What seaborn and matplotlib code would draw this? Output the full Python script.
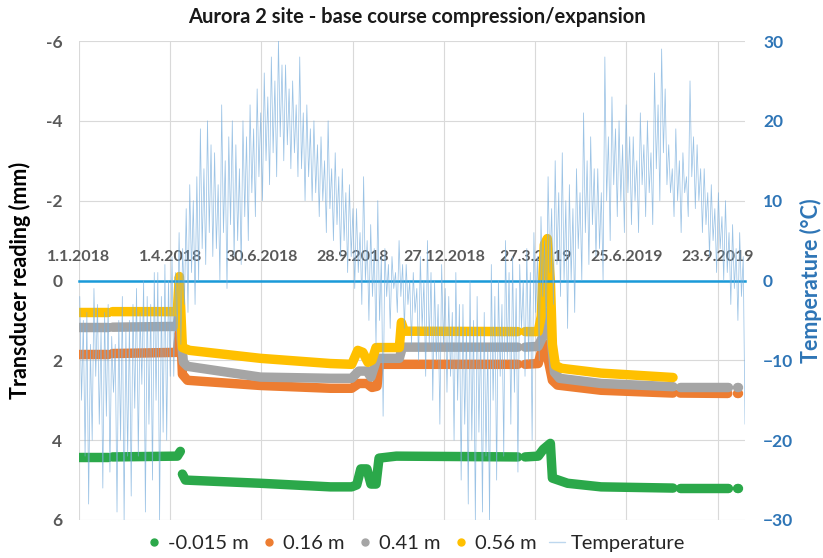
import numpy as np
import pandas as pd
import matplotlib
matplotlib.use("Agg")
import matplotlib.pyplot as plt
from matplotlib.lines import Line2D
import seaborn as sns

# ---------------- data ----------------
title = "Aurora 2 site - base course compression/expansion"
tick_labels = ["1.1.2018", "1.4.2018", "30.6.2018", "28.9.2018",
               "27.12.2018", "27.3.2019", "25.6.2019", "23.9.2019"]
series_names = ["-0.015 m", "0.16 m", "0.41 m", "0.56 m"]

green_dates = ["2018-01-01", "2018-01-30",
               "2018-02-03", "2018-04-08", "2018-04-11",
               "2018-04-13", "2018-04-16", "2018-06-29", "2018-09-06", "2018-09-27", "2018-10-02",
               "2018-10-06", "2018-10-12", "2018-10-16", "2018-10-21", "2018-10-24", "2018-11-10", "2019-03-10",
               "2019-03-17", "2019-03-30", "2019-04-04", "2019-04-11", "2019-04-13", "2019-04-28",
               "2019-05-31", "2019-08-10",
               "2019-08-17", "2019-10-03",
               "2019-10-12", "2019-10-13"]
green_vals = [4.42, 4.42,
              4.42, 4.40, 4.28,
              4.85, 5.0, 5.08, 5.17, 5.17, 5.12, 4.72, 4.72, 5.1, 5.1, 4.45, 4.4, 4.42,
              4.42, 4.40, 4.23, 4.08, 4.95, 5.08, 5.17, 5.2,
              5.2, 5.2,
              5.2, 5.2]
green_seg = [0] * 2 + [1] * 3 + [2] * 13 + [3] * 8 + [4] * 2 + [5] * 2

orange_dates = ["2018-01-01", "2018-01-30",
                "2018-02-03", "2018-04-08", "2018-04-10", "2018-04-12", "2018-04-13", "2018-04-18",
                "2018-06-29", "2018-09-06", "2018-09-27", "2018-10-04", "2018-10-12", "2018-10-17",
                "2018-10-22", "2018-10-24", "2019-03-10",
                "2019-03-17", "2019-03-30", "2019-04-03", "2019-04-06", "2019-04-09", "2019-04-13",
                "2019-04-18", "2019-05-31", "2019-08-10",
                "2019-08-17", "2019-10-03",
                "2019-10-12", "2019-10-13"]
orange_vals = [1.83, 1.83,
               1.83, 1.80, 1.30, 1.7, 2.35, 2.5, 2.63, 2.7, 2.7, 2.58, 2.58, 2.68, 2.65, 2.1, 2.1,
               2.1, 2.08, 1.7, 1.6, 2.0, 2.5, 2.62, 2.75, 2.82,
               2.82, 2.83,
               2.83, 2.83]
orange_seg = [0] * 2 + [1] * 15 + [2] * 9 + [3] * 2 + [4] * 2

gray_dates = ["2018-01-01", "2018-01-30",
              "2018-02-03", "2018-04-08", "2018-04-10", "2018-04-12", "2018-04-14", "2018-04-18",
              "2018-06-29", "2018-09-06", "2018-09-27", "2018-10-04", "2018-10-12", "2018-10-16",
              "2018-10-22", "2018-11-13", "2018-11-16", "2019-03-10",
              "2019-03-17", "2019-03-30", "2019-04-03", "2019-04-07", "2019-04-11", "2019-04-15",
              "2019-04-20", "2019-05-31", "2019-08-10",
              "2019-08-17", "2019-10-03",
              "2019-10-12", "2019-10-13"]
gray_vals = [1.17, 1.17,
             1.17, 1.15, 0.6, 1.5, 2.05, 2.15, 2.42, 2.45, 2.45, 2.27, 2.27, 2.42, 1.95, 1.95, 1.67, 1.67,
             1.67, 1.65, 1.43, 0.8, 1.2, 2.3, 2.45, 2.58, 2.66,
             2.66, 2.66,
             2.66, 2.66]
gray_seg = [0] * 2 + [1] * 16 + [2] * 9 + [3] * 2 + [4] * 2

yellow_dates = ["2018-01-01", "2018-01-30",
                "2018-02-03", "2018-04-08", "2018-04-09", "2018-04-10", "2018-04-11", "2018-04-13",
                "2018-04-20", "2018-06-29", "2018-09-06", "2018-09-27", "2018-10-03", "2018-10-08",
                "2018-10-13", "2018-10-17", "2018-10-21", "2018-11-13", "2018-11-15", "2018-11-18",
                "2019-03-10",
                "2019-03-17", "2019-03-30", "2019-04-02", "2019-04-05", "2019-04-08", "2019-04-11",
                "2019-04-13", "2019-04-16", "2019-04-22", "2019-05-31", "2019-08-10"]
yellow_vals = [0.78, 0.78,
               0.78, 0.78, 0.3, -0.1, 0.5, 1.68, 1.75, 1.95, 2.08, 2.1, 1.75, 1.8, 2.05, 2.0, 1.68,
               1.68, 1.05, 1.27, 1.28,
               1.28, 1.28, 0.9, -0.9, -1.05, 0.0, 1.6, 2.13, 2.2, 2.32, 2.43]
yellow_seg = [0] * 2 + [1] * 19 + [2] * 11

# half-weekly temperature highs / lows (°C), starting 1.1.2018
temp_start = "2018-01-01"
temp_high = [-2, -5, -4, -8, -1, -3, -6, -4, -3, -7, -8, -5, -2, -6, -5, -3, -1, -4, 0, -2,
             -3, 1, 1, -2, 2, 0, 3, 1, 6, 4, 9, 12, 10, 13, 19, 14, 20, 17, 16, 12,
             22, 15, 18, 20, 17, 14, 20, 18, 22, 19, 24, 21, 26, 23, 28, 25, 30, 27, 27, 24,
             25, 22, 28, 21, 22, 19, 20, 17, 18, 15, 20, 14, 16, 13, 14, 11, 12, 9, 9, 6,
             13, 5, 7, 4, 10, 3, 4, 2, 3, 1, 5, 2, 2, 0, 1, -1, 3, 0, 5, 1,
             0, -3, 2, -1, -2, -4, 1, -3, -3, -6, 0, -5, -2, -6, -4, -8, 2, -2, 0, -3,
             5, 1, 3, -1, 2, 0, 4, 1, 6, 3, 8, 5, 13, 9, 15, 11, 16, 10, 12, 9,
             14, 11, 21, 15, 18, 14, 14, 11, 28, 18, 23, 19, 20, 17, 22, 18, 18, 15, 21, 17,
             20, 16, 26, 22, 29, 24, 17, 14, 19, 15, 16, 13, 25, 18, 17, 14, 14, 11, 12, 9,
             11, 8, 10, 6, 7, 4, 6, 3]
temp_low = [-15, -22, -28, -20, -12, -18, -26, -17, -24, -14, -29, -20, -30, -22, -27, -16, -22, -13, -29, -18,
            -25, -15, -30, -19, -20, -12, -12, -6, -8, -3, -4, 1, -3, 0, 4, 2, 6, 3, 4, 0,
            6, -1, 7, 3, 5, 2, 8, 5, 11, 8, 13, 10, 15, 12, 16, 13, 18, 15, 17, 14,
            16, 13, 14, 10, 13, 10, 11, 8, 10, 6, 9, 5, 7, 3, 5, 1, 3, -1, 1, -3,
            0, -5, -2, -8, -5, -17, -2, -6, -1, -4, -2, -6, -3, -8, -4, -10, -6, -12, -8, -15,
            -10, -18, -8, -14, -12, -20, -15, -25, -18, -28, -20, -30, -19, -29, -22, -30, -15, -25, -12, -22,
            -10, -18, -14, -24, -6, -12, -10, -20, -4, -10, -2, -6, 1, -3, 2, -2, 0, -6, 0, -4,
            4, 0, 6, 2, 7, 3, 4, 0, 10, 5, 12, 8, 10, 6, 11, 7, 10, 6, 12, 8,
            11, 7, 14, 10, 16, 12, 11, 8, 10, 6, 11, 8, 13, 9, 10, 6, 7, 3, 5, 1,
            4, 0, 1, -3, -1, -5, -2, -18]

# ---------------- styling ----------------
colors = ["#2BA84A", "#ED7D31", "#A5A5A5", "#FFC000"]
temp_color = "#7AAFDD"
axis_blue = "#1A9AD9"
right_blue = "#2E75B6"
tick_gray = "#595959"

sns.set_style("white")
plt.rcParams["font.family"] = ["Lato", "DejaVu Sans"]

fig = plt.figure(figsize=(8.23, 5.58), dpi=100)
ax = fig.add_axes([79 / 823, 1 - 520 / 558, 666 / 823, 479 / 558])

series = [(green_dates, green_vals, green_seg),
          (orange_dates, orange_vals, orange_seg),
          (gray_dates, gray_vals, gray_seg),
          (yellow_dates, yellow_vals, yellow_seg)]
for (d, v, s), c in zip(series, colors):
    df = pd.DataFrame({"date": pd.to_datetime(d), "value": v, "seg": s})
    sns.lineplot(data=df, x="date", y="value", units="seg", estimator=None, sort=False,
                 color=c, lw=6.8, solid_capstyle="round", solid_joinstyle="round",
                 ax=ax, legend=False, zorder=3)

ax.set_ylim(6, -6)
ax.set_yticks(np.arange(-6, 7, 2))
ax.set_yticklabels([str(t) for t in range(-6, 7, 2)])
ax.set_xlim(pd.Timestamp("2018-01-01"), pd.Timestamp("2019-10-20"))
tick_dates = pd.to_datetime(tick_labels, format="%d.%m.%Y")
ax.set_xticks(tick_dates)
ax.set_xticklabels(tick_labels)
ax.xaxis.set_ticks_position("top")
ax.spines["top"].set_position(("data", 0))
for side in ["left", "right", "bottom"]:
    ax.spines[side].set_visible(False)
ax.spines["top"].set_color(axis_blue)
ax.spines["top"].set_linewidth(1.8)
ax.spines["top"].set_zorder(5)
ax.tick_params(axis="x", length=0, pad=12, labelsize=11.5, labelcolor=tick_gray)
ax.tick_params(axis="y", length=0, pad=12, labelsize=12.5, labelcolor=tick_gray)
for lab in ax.get_xticklabels() + ax.get_yticklabels():
    lab.set_fontweight("bold")
ax.grid(True, color="#D9D9D9", lw=0.8)
ax.set_axisbelow(True)
ax.set_xlabel("")
ax.set_ylabel("Transducer reading (mm)", fontsize=15.5, fontweight="bold", color="black")
ax.yaxis.set_label_coords(-0.072, 0.5)

# temperature on secondary axis
ax2 = ax.twinx()
half_starts = pd.date_range(temp_start, periods=len(temp_high), freq="84h")
t_dates, t_vals = [], []
for hs, hi, lo in zip(half_starts, temp_high, temp_low):
    t_dates += [hs + pd.Timedelta(hours=18), hs + pd.Timedelta(hours=60)]
    t_vals += [hi, lo]
tdf = pd.DataFrame({"date": t_dates, "temp": t_vals})
sns.lineplot(data=tdf, x="date", y="temp", estimator=None, sort=False, color=temp_color,
             lw=0.55, alpha=0.75, ax=ax2, legend=False)
ax2.set_ylim(-30, 30)
ax2.set_yticks(np.arange(-30, 31, 10))
ax2.set_xlim(pd.Timestamp("2018-01-01"), pd.Timestamp("2019-10-20"))
for side in ["left", "right", "bottom", "top"]:
    ax2.spines[side].set_visible(False)
ax2.tick_params(axis="y", length=0, pad=13, labelsize=12.5, labelcolor=right_blue)
for lab in ax2.get_yticklabels():
    lab.set_fontweight("bold")
ax2.grid(False)
ax2.set_xlabel("")
ax2.set_ylabel("Temperature (°C)", fontsize=15.5, fontweight="bold", color=right_blue)
ax2.yaxis.set_label_coords(1.082, 0.5)

fig.text(0.507, 1 - 17 / 558, title, ha="center", va="center",
         fontsize=14.5, fontweight="bold", color="#1A1A1A")

handles = [Line2D([], [], ls="", marker="o", ms=5, color=c) for c in colors]
handles.append(Line2D([], [], color="#BDD7EE", lw=1))
fig.legend(handles, series_names + ["Temperature"], loc="center",
           bbox_to_anchor=(0.505, 1 - 543 / 558), ncol=5, frameon=False,
           fontsize=14.5, handlelength=0.8, handletextpad=0.3, columnspacing=0.6)

fig.savefig("out.png", dpi=100)
